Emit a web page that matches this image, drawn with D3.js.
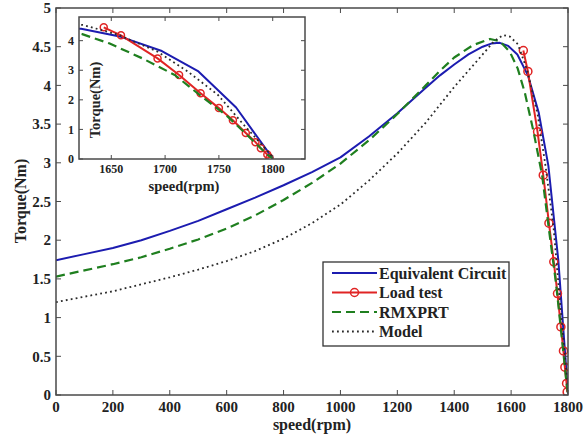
<!DOCTYPE html>
<html>
<head>
<meta charset="utf-8">
<script src="https://cdn.jsdelivr.net/npm/d3@7"></script>
<style>
  html, body { margin: 0; padding: 0; background: #fff; }
  svg { display: block; }
  text { font-family: "Liberation Serif", "Times New Roman", serif; font-weight: bold; fill: #222; }
</style>
</head>
<body>
<svg id="chart" width="584" height="442"></svg>
<script>
// ---------------- data ----------------
const eqSpeed  = [0, 100, 200, 300, 400, 500, 600, 700, 800, 900, 1000, 1100, 1200, 1300, 1350, 1400, 1450, 1500, 1530, 1560, 1590, 1622, 1659, 1697, 1731, 1766, 1798, 1800];
const eqTorque = [1.74, 1.82, 1.90, 2.00, 2.12, 2.25, 2.40, 2.55, 2.71, 2.88, 3.07, 3.34, 3.64, 3.97, 4.13, 4.27, 4.40, 4.50, 4.54, 4.55, 4.51, 4.40, 4.13, 3.65, 2.96, 1.74, 0.12, 0.02];

const loadSpeed  = [1643, 1659, 1693, 1713, 1733, 1750, 1763, 1775, 1784, 1789, 1795, 1797];
const loadTorque = [4.45, 4.18, 3.40, 2.84, 2.22, 1.72, 1.31, 0.88, 0.57, 0.36, 0.15, 0.04];

const rmSpeed  = [0, 100, 200, 300, 400, 500, 600, 700, 800, 900, 1000, 1100, 1200, 1300, 1350, 1400, 1466, 1526, 1561, 1596, 1623, 1648, 1679, 1709, 1734, 1758, 1776, 1795, 1800];
const rmTorque = [1.53, 1.61, 1.69, 1.78, 1.89, 2.01, 2.15, 2.32, 2.52, 2.74, 2.99, 3.29, 3.63, 4.00, 4.19, 4.36, 4.52, 4.60, 4.57, 4.43, 4.22, 3.91, 3.40, 2.84, 2.11, 1.44, 0.82, 0.15, 0.02];

const mdSpeed  = [0, 100, 200, 300, 400, 500, 600, 700, 800, 900, 1000, 1100, 1200, 1300, 1400, 1450, 1500, 1540, 1572, 1596, 1624, 1657, 1693, 1721, 1749, 1773, 1797, 1800];
const mdTorque = [1.20, 1.27, 1.34, 1.43, 1.52, 1.62, 1.73, 1.86, 2.02, 2.22, 2.46, 2.77, 3.12, 3.52, 3.98, 4.19, 4.40, 4.57, 4.65, 4.63, 4.53, 4.19, 3.63, 2.96, 2.17, 1.16, 0.20, 0.05];

const seriesNames = ["Equivalent Circuit", "Load test", "RMXPRT", "Model"];
const xTicks = [0, 200, 400, 600, 800, 1000, 1200, 1400, 1600, 1800];
const yTicks = [0, 0.5, 1, 1.5, 2, 2.5, 3, 3.5, 4, 4.5, 5];
const yTickLabels = ["0", "0.5", "1", "1.5", "2", "2.5", "3", "3.5", "4", "4.5", "5"];
const inXTicks = [1650, 1700, 1750, 1800];
const inYTicks = [0, 1, 2, 3, 4];

// ---------------- styles ----------------
const colors = { eq: "#1c1cb0", load: "#e02424", rm: "#1f7f1f", md: "#2a2a2a" };
const zip = (a, b) => a.map((v, i) => [v, b[i]]);
const series = [
  { key: "eq", data: zip(eqSpeed, eqTorque), color: colors.eq, width: 2, dash: null, marker: false },
  { key: "load", data: zip(loadSpeed, loadTorque), color: colors.load, width: 2, dash: null, marker: true },
  { key: "rm", data: zip(rmSpeed, rmTorque), color: colors.rm, width: 2.2, dash: "9,5", marker: false },
  { key: "md", data: zip(mdSpeed, mdTorque), color: colors.md, width: 1.8, dash: "1.8,3.2", marker: false }
];

const svg = d3.select("#chart");
const axisColor = "#4a4a4a";

function drawPanel(g, cfg) {
  const { x, y, clipId, tickLen, xt, yt, ytl, fs, markerR } = cfg;
  const [x0, x1] = x.range();
  const [y0, y1] = y.range(); // y0 bottom, y1 top

  g.append("clipPath").attr("id", clipId)
    .append("rect").attr("x", x0).attr("y", y1).attr("width", x1 - x0).attr("height", y0 - y1);

  const plot = g.append("g").attr("clip-path", `url(#${clipId})`);
  const line = d3.line().x(d => x(d[0])).y(d => y(d[1])).curve(d3.curveLinear);

  series.forEach(s => {
    plot.append("path").datum(s.data)
      .attr("d", line)
      .attr("fill", "none")
      .attr("stroke", s.color)
      .attr("stroke-width", s.width)
      .attr("stroke-dasharray", s.dash)
      .attr("stroke-linejoin", "round");
    if (s.marker) {
      plot.selectAll(null).data(s.data).enter().append("circle")
        .attr("cx", d => x(d[0])).attr("cy", d => y(d[1]))
        .attr("r", markerR)
        .attr("fill", "none").attr("stroke", s.color).attr("stroke-width", 1.5);
    }
  });

  // box
  g.append("rect").attr("x", x0).attr("y", y1).attr("width", x1 - x0).attr("height", y0 - y1)
    .attr("fill", "none").attr("stroke", axisColor).attr("stroke-width", 1.5);

  // ticks (inward, mirrored)
  const ax = g.append("g").attr("stroke", axisColor).attr("stroke-width", 1);
  xt.forEach(t => {
    ax.append("line").attr("x1", x(t)).attr("x2", x(t)).attr("y1", y0).attr("y2", y0 - tickLen);
    ax.append("line").attr("x1", x(t)).attr("x2", x(t)).attr("y1", y1).attr("y2", y1 + tickLen);
  });
  yt.forEach(t => {
    ax.append("line").attr("y1", y(t)).attr("y2", y(t)).attr("x1", x0).attr("x2", x0 + tickLen);
    ax.append("line").attr("y1", y(t)).attr("y2", y(t)).attr("x1", x1).attr("x2", x1 - tickLen);
  });

  // tick labels
  g.selectAll(null).data(xt).enter().append("text")
    .attr("x", d => x(d)).attr("y", y0 + fs + 2)
    .attr("text-anchor", "middle").style("font-size", fs + "px")
    .text(d => d);
  g.selectAll(null).data(yt).enter().append("text")
    .attr("x", x0 - 5).attr("y", d => y(d)).attr("dy", "0.35em")
    .attr("text-anchor", "end").style("font-size", fs + "px")
    .text((d, i) => ytl ? ytl[i] : d);
}

// ---------------- main panel ----------------
const xMain = d3.scaleLinear().domain([0, 1800]).range([56, 568]);
const yMain = d3.scaleLinear().domain([0, 5]).range([395, 8]);
const gMain = svg.append("g");
drawPanel(gMain, { x: xMain, y: yMain, clipId: "clipMain", tickLen: 5, xt: xTicks, yt: yTicks, ytl: yTickLabels, fs: 15, markerR: 4 });

gMain.append("text").attr("x", 312).attr("y", 430).attr("text-anchor", "middle")
  .style("font-size", "16px").text("speed(rpm)");
gMain.append("text").attr("transform", "translate(20,201) rotate(-90)").attr("dy", "0.35em")
  .attr("text-anchor", "middle").style("font-size", "16px").text("Torque(Nm)");

// legend
const lg = svg.append("g");
lg.append("rect").attr("x", 323).attr("y", 262).attr("width", 186).attr("height", 84)
  .attr("fill", "#fff").attr("stroke", "#333").attr("stroke-width", 1.3);
series.forEach((s, i) => {
  const yy = 273 + i * 19.5;
  lg.append("line").attr("x1", 332).attr("x2", 377).attr("y1", yy).attr("y2", yy)
    .attr("stroke", s.color).attr("stroke-width", s.width).attr("stroke-dasharray", s.dash);
  if (s.marker) {
    lg.append("circle").attr("cx", 354.5).attr("cy", yy).attr("r", 4)
      .attr("fill", "none").attr("stroke", s.color).attr("stroke-width", 1.5);
  }
  lg.append("text").attr("x", 379).attr("y", yy).attr("dy", "0.35em")
    .style("font-size", "16px").text(seriesNames[i]);
});

// ---------------- inset panel ----------------
const xIn = d3.scaleLinear().domain([1620, 1830]).range([79, 305]);
const yIn = d3.scaleLinear().domain([0, 4.8]).range([159, 17]);
const gIn = svg.append("g");
gIn.append("rect").attr("x", 79).attr("y", 17).attr("width", 226).attr("height", 142).attr("fill", "#fff");
drawPanel(gIn, { x: xIn, y: yIn, clipId: "clipIn", tickLen: 4, xt: inXTicks, yt: inYTicks, ytl: null, fs: 12, markerR: 3.5 });
gIn.append("text").attr("x", 184).attr("y", 191).attr("text-anchor", "middle")
  .style("font-size", "14.5px").text("speed(rpm)");
gIn.append("text").attr("transform", "translate(95,100) rotate(-90)").attr("dy", "0.35em")
  .attr("text-anchor", "middle").style("font-size", "14.5px").text("Torque(Nm)");
</script>
</body>
</html>
